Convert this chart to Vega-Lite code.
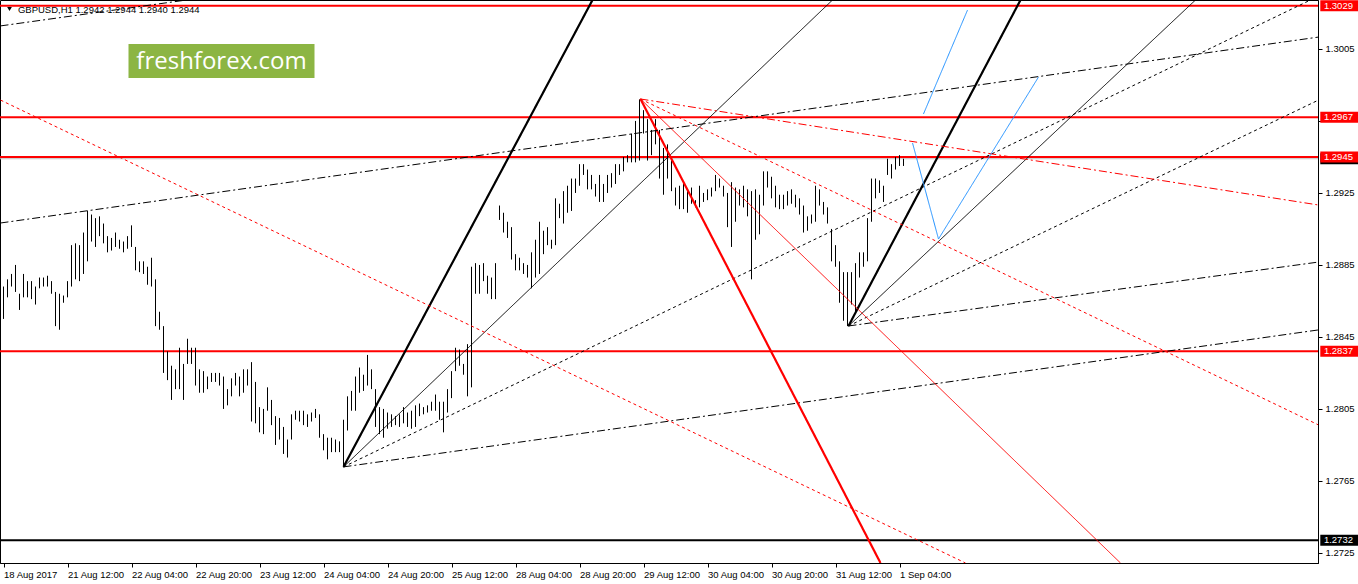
{
  "$schema": "https://vega.github.io/schema/vega-lite/v6.json",
  "width": 1318,
  "height": 563,
  "autosize": "none",
  "padding": {"left": 0, "top": 0, "right": 40, "bottom": 21},
  "background": "white",
  "datasets": {
    "bars": [
      {"i":0,"h":1.2873,"l":1.2855},{"i":1,"h":1.2877,"l":1.2867},{"i":2,"h":1.2880,"l":1.2873},{"i":3,"h":1.2885,"l":1.2870},
      {"i":4,"h":1.2869,"l":1.2860},{"i":5,"h":1.2880,"l":1.2867},{"i":6,"h":1.2876,"l":1.2867},{"i":7,"h":1.2876,"l":1.2866},
      {"i":8,"h":1.2873,"l":1.2863},{"i":9,"h":1.2878,"l":1.2872},{"i":10,"h":1.2878,"l":1.2873},{"i":11,"h":1.2879,"l":1.2873},
      {"i":12,"h":1.2876,"l":1.2869},{"i":13,"h":1.2870,"l":1.2851},{"i":14,"h":1.2869,"l":1.2849},{"i":15,"h":1.2868,"l":1.2864},
      {"i":16,"h":1.2876,"l":1.2867},{"i":17,"h":1.2896,"l":1.2873},{"i":18,"h":1.2897,"l":1.2877},{"i":19,"h":1.2896,"l":1.2876},
      {"i":20,"h":1.2903,"l":1.2880},{"i":21,"h":1.2915,"l":1.2887},{"i":22,"h":1.2913,"l":1.2898},{"i":23,"h":1.2911,"l":1.2895},
      {"i":24,"h":1.2912,"l":1.2901},{"i":25,"h":1.2908,"l":1.2897},{"i":26,"h":1.2901,"l":1.2892},{"i":27,"h":1.2900,"l":1.2893},
      {"i":28,"h":1.2903,"l":1.2895},{"i":29,"h":1.2899,"l":1.2894},{"i":30,"h":1.2898,"l":1.2892},{"i":31,"h":1.2901,"l":1.2894},
      {"i":32,"h":1.2907,"l":1.2895},{"i":33,"h":1.2895,"l":1.2882},{"i":34,"h":1.2887,"l":1.2881},{"i":35,"h":1.2887,"l":1.2880},
      {"i":36,"h":1.2884,"l":1.2874},{"i":37,"h":1.2889,"l":1.2873},{"i":38,"h":1.2877,"l":1.2851},{"i":39,"h":1.2859,"l":1.2849},
      {"i":40,"h":1.2851,"l":1.2825},{"i":41,"h":1.2837,"l":1.2821},{"i":42,"h":1.2829,"l":1.2810},{"i":43,"h":1.2827,"l":1.2816},
      {"i":44,"h":1.2839,"l":1.2816},{"i":45,"h":1.2830,"l":1.2810},{"i":46,"h":1.2844,"l":1.2830},{"i":47,"h":1.2839,"l":1.2830},
      {"i":48,"h":1.2839,"l":1.2818},{"i":49,"h":1.2827,"l":1.2814},{"i":50,"h":1.2826,"l":1.2814},{"i":51,"h":1.2823,"l":1.2816},
      {"i":52,"h":1.2825,"l":1.2820},{"i":53,"h":1.2825,"l":1.2820},{"i":54,"h":1.2825,"l":1.2818},{"i":55,"h":1.2823,"l":1.2805},
      {"i":56,"h":1.2816,"l":1.2807},{"i":57,"h":1.2822,"l":1.2812},{"i":58,"h":1.2825,"l":1.2818},{"i":59,"h":1.2823,"l":1.2812},
      {"i":60,"h":1.2827,"l":1.2814},{"i":61,"h":1.2827,"l":1.2818},{"i":62,"h":1.2831,"l":1.2798},{"i":63,"h":1.2820,"l":1.2797},
      {"i":64,"h":1.2806,"l":1.2792},{"i":65,"h":1.2805,"l":1.2791},{"i":66,"h":1.2817,"l":1.2804},{"i":67,"h":1.2810,"l":1.2796},
      {"i":68,"h":1.2801,"l":1.2785},{"i":69,"h":1.2800,"l":1.2788},{"i":70,"h":1.2795,"l":1.2780},{"i":71,"h":1.2788,"l":1.2778},
      {"i":72,"h":1.2802,"l":1.2788},{"i":73,"h":1.2804,"l":1.2799},{"i":74,"h":1.2804,"l":1.2798},{"i":75,"h":1.2804,"l":1.2796},
      {"i":76,"h":1.2802,"l":1.2795},{"i":77,"h":1.2803,"l":1.2798},{"i":78,"h":1.2805,"l":1.2800},{"i":79,"h":1.2802,"l":1.2789},
      {"i":80,"h":1.2791,"l":1.2782},{"i":81,"h":1.2789,"l":1.2777},{"i":82,"h":1.2789,"l":1.2781},{"i":83,"h":1.2788,"l":1.2781},
      {"i":84,"h":1.2787,"l":1.2781},{"i":85,"h":1.2799,"l":1.2773},{"i":86,"h":1.2812,"l":1.2793},{"i":87,"h":1.2815,"l":1.2804},
      {"i":88,"h":1.2823,"l":1.2804},{"i":89,"h":1.2828,"l":1.2814},{"i":90,"h":1.2824,"l":1.2815},{"i":91,"h":1.2835,"l":1.2818},
      {"i":92,"h":1.2827,"l":1.2816},{"i":93,"h":1.2816,"l":1.2795},{"i":94,"h":1.2806,"l":1.2791},{"i":95,"h":1.2805,"l":1.2789},
      {"i":96,"h":1.2803,"l":1.2794},{"i":97,"h":1.2802,"l":1.2795},{"i":98,"h":1.2801,"l":1.2796},{"i":99,"h":1.2802,"l":1.2795},
      {"i":100,"h":1.2806,"l":1.2797},{"i":101,"h":1.2803,"l":1.2795},{"i":102,"h":1.2804,"l":1.2794},{"i":103,"h":1.2807,"l":1.2795},
      {"i":104,"h":1.2808,"l":1.2801},{"i":105,"h":1.2806,"l":1.2802},{"i":106,"h":1.2807,"l":1.2803},{"i":107,"h":1.2809,"l":1.2804},
      {"i":108,"h":1.2813,"l":1.2804},{"i":109,"h":1.2809,"l":1.2799},{"i":110,"h":1.2809,"l":1.2792},{"i":111,"h":1.2816,"l":1.2803},
      {"i":112,"h":1.2826,"l":1.2811},{"i":113,"h":1.2839,"l":1.2826},{"i":114,"h":1.2838,"l":1.2829},{"i":115,"h":1.2830,"l":1.2824},
      {"i":116,"h":1.2841,"l":1.2812},{"i":117,"h":1.2884,"l":1.2817},{"i":118,"h":1.2886,"l":1.2869},{"i":119,"h":1.2885,"l":1.2869},
      {"i":120,"h":1.2886,"l":1.2876},{"i":121,"h":1.2879,"l":1.2869},{"i":122,"h":1.2878,"l":1.2866},{"i":123,"h":1.2886,"l":1.2866},
      {"i":124,"h":1.2918,"l":1.2910},{"i":125,"h":1.2914,"l":1.2903},{"i":126,"h":1.2909,"l":1.2900},{"i":127,"h":1.2906,"l":1.2888},
      {"i":128,"h":1.2891,"l":1.2882},{"i":129,"h":1.2889,"l":1.2882},{"i":130,"h":1.2886,"l":1.2880},{"i":131,"h":1.2885,"l":1.2878},
      {"i":132,"h":1.2892,"l":1.2872},{"i":133,"h":1.2899,"l":1.2878},{"i":134,"h":1.2909,"l":1.2880},{"i":135,"h":1.2904,"l":1.2891},
      {"i":136,"h":1.2906,"l":1.2896},{"i":137,"h":1.2899,"l":1.2894},{"i":138,"h":1.2922,"l":1.2896},{"i":139,"h":1.2919,"l":1.2911},
      {"i":140,"h":1.2926,"l":1.2908},{"i":141,"h":1.2929,"l":1.2914},{"i":142,"h":1.2933,"l":1.2915},{"i":143,"h":1.2933,"l":1.2925},
      {"i":144,"h":1.2941,"l":1.2929},{"i":145,"h":1.2941,"l":1.2935},{"i":146,"h":1.2938,"l":1.2927},{"i":147,"h":1.2935,"l":1.2927},
      {"i":148,"h":1.2930,"l":1.2923},{"i":149,"h":1.2935,"l":1.2920},{"i":150,"h":1.2930,"l":1.2920},{"i":151,"h":1.2935,"l":1.2925},
      {"i":152,"h":1.2936,"l":1.2928},{"i":153,"h":1.2941,"l":1.2930},{"i":154,"h":1.2941,"l":1.2935},{"i":155,"h":1.2945,"l":1.2937},
      {"i":156,"h":1.2946,"l":1.2942},{"i":157,"h":1.2958,"l":1.2942},{"i":158,"h":1.2965,"l":1.2942},{"i":159,"h":1.2977,"l":1.2943},
      {"i":160,"h":1.2971,"l":1.2958},{"i":161,"h":1.2966,"l":1.2943},{"i":162,"h":1.2960,"l":1.2946},{"i":163,"h":1.2966,"l":1.2952},
      {"i":164,"h":1.2960,"l":1.2933},{"i":165,"h":1.2950,"l":1.2924},{"i":166,"h":1.2952,"l":1.2933},{"i":167,"h":1.2943,"l":1.2926},
      {"i":168,"h":1.2928,"l":1.2918},{"i":169,"h":1.2929,"l":1.2916},{"i":170,"h":1.2930,"l":1.2916},{"i":171,"h":1.2926,"l":1.2914},
      {"i":172,"h":1.2928,"l":1.2919},{"i":173,"h":1.2921,"l":1.2917},{"i":174,"h":1.2929,"l":1.2917},{"i":175,"h":1.2925,"l":1.2920},
      {"i":176,"h":1.2927,"l":1.2921},{"i":177,"h":1.2928,"l":1.2923},{"i":178,"h":1.2935,"l":1.2926},{"i":179,"h":1.2933,"l":1.2928},
      {"i":180,"h":1.2929,"l":1.2923},{"i":181,"h":1.2925,"l":1.2906},{"i":182,"h":1.2931,"l":1.2895},{"i":183,"h":1.2928,"l":1.2909},
      {"i":184,"h":1.2927,"l":1.2918},{"i":185,"h":1.2929,"l":1.2917},{"i":186,"h":1.2927,"l":1.2912},{"i":187,"h":1.2926,"l":1.2877},
      {"i":188,"h":1.2927,"l":1.2899},{"i":189,"h":1.2924,"l":1.2902},{"i":190,"h":1.2937,"l":1.2918},{"i":191,"h":1.2937,"l":1.2928},
      {"i":192,"h":1.2934,"l":1.2922},{"i":193,"h":1.2929,"l":1.2917},{"i":194,"h":1.2924,"l":1.2916},{"i":195,"h":1.2924,"l":1.2916},
      {"i":196,"h":1.2926,"l":1.2918},{"i":197,"h":1.2927,"l":1.2919},{"i":198,"h":1.2924,"l":1.2917},{"i":199,"h":1.2922,"l":1.2913},
      {"i":200,"h":1.2918,"l":1.2903},{"i":201,"h":1.2912,"l":1.2904},{"i":202,"h":1.2913,"l":1.2908},{"i":203,"h":1.2929,"l":1.2909},
      {"i":204,"h":1.2927,"l":1.2918},{"i":205,"h":1.2920,"l":1.2913},{"i":206,"h":1.2917,"l":1.2908},{"i":207,"h":1.2905,"l":1.2887},
      {"i":208,"h":1.2896,"l":1.2884},{"i":209,"h":1.2887,"l":1.2864},{"i":210,"h":1.2881,"l":1.2854},{"i":211,"h":1.2881,"l":1.2851},
      {"i":212,"h":1.2881,"l":1.2863},{"i":213,"h":1.2886,"l":1.2858},{"i":214,"h":1.2892,"l":1.2878},{"i":215,"h":1.2892,"l":1.2884},
      {"i":216,"h":1.2911,"l":1.2887},{"i":217,"h":1.2933,"l":1.2909},{"i":218,"h":1.2933,"l":1.2922},{"i":219,"h":1.2932,"l":1.2925},
      {"i":220,"h":1.2929,"l":1.2920},{"i":221,"h":1.2944,"l":1.2935},{"i":222,"h":1.2941,"l":1.2933},{"i":223,"h":1.2945,"l":1.2938},
      {"i":224,"h":1.2946,"l":1.2940},{"i":225,"h":1.2944,"l":1.2940}
    ],
    "levels": [
      {"price": 1.2944, "kind": "bid"},
      {"price": 1.3029, "kind": "red"},
      {"price": 1.2967, "kind": "red"},
      {"price": 1.2945, "kind": "red"},
      {"price": 1.2837, "kind": "red"},
      {"price": 1.2732, "kind": "black"}
    ],
    "trend": [
      {"i0": 85, "p0": 1.27728, "i1": 147.25, "p1": 1.30322, "col": "black", "st": "thick"},
      {"i0": 85, "p0": 1.27728, "i1": 207.25, "p1": 1.30322, "col": "black", "st": "thin"},
      {"i0": 85, "p0": 1.27728, "i1": 326.75, "p1": 1.30322, "col": "black", "st": "dot"},
      {"i0": 85, "p0": 1.27728, "i1": 328.75, "p1": 1.28489, "col": "black", "st": "dashdot"},
      {"i0": 211.25, "p0": 1.28511, "i1": 254.25, "p1": 1.30322, "col": "black", "st": "thick"},
      {"i0": 211.25, "p0": 1.28511, "i1": 298, "p1": 1.30322, "col": "black", "st": "thin"},
      {"i0": 211.25, "p0": 1.28511, "i1": 328.75, "p1": 1.29766, "col": "black", "st": "dot"},
      {"i0": 211.25, "p0": 1.28511, "i1": 328.75, "p1": 1.28866, "col": "black", "st": "dashdot"},
      {"i0": 159.25, "p0": 1.29772, "i1": 219.25, "p1": 1.27194, "col": "red", "st": "thick"},
      {"i0": 159.25, "p0": 1.29772, "i1": 279.25, "p1": 1.27194, "col": "red", "st": "thin"},
      {"i0": 159.25, "p0": 1.29772, "i1": 328.75, "p1": 1.27961, "col": "red", "st": "dot"},
      {"i0": 159.25, "p0": 1.29772, "i1": 328.75, "p1": 1.29183, "col": "red", "st": "dashdot"},
      {"i0": -0.75, "p0": 1.29766, "i1": 240.5, "p1": 1.27194, "col": "red", "st": "dot"},
      {"i0": -0.75, "p0": 1.29083, "i1": 328.75, "p1": 1.30116, "col": "black", "st": "dashdot"},
      {"i0": -0.75, "p0": 1.30178, "i1": 45.75, "p1": 1.30322, "col": "black", "st": "dashdot"},
      {"i0": 227.25, "p0": 1.29528, "i1": 233.75, "p1": 1.28994, "col": "blue", "st": "thin"},
      {"i0": 233.75, "p0": 1.28994, "i1": 258.75, "p1": 1.29894, "col": "blue", "st": "thin"},
      {"i0": 230, "p0": 1.29689, "i1": 241, "p1": 1.30266, "col": "blue", "st": "thin"}
    ]
  },
  "layer": [
    {
      "data": {"name": "levels"},
      "mark": {"type": "rule", "clip": true},
      "encoding": {
        "y": {"field": "price", "type": "quantitative", "title": null,
              "scale": {"domain": [1.27194, 1.30322], "nice": false, "zero": false}},
        "stroke": {"field": "kind", "type": "nominal", "legend": null,
                   "scale": {"domain": ["red", "black", "bid"], "range": ["#ff0000", "#000000", "#c0c0c0"]}},
        "strokeWidth": {"field": "kind", "type": "nominal", "legend": null,
                        "scale": {"type": "ordinal", "domain": ["red", "black", "bid"], "range": [2, 2, 1]}}
      }
    },
    {
      "data": {"name": "bars"},
      "mark": {"type": "rule", "color": "black", "strokeWidth": 1},
      "encoding": {
        "x": {"field": "i", "type": "quantitative", "title": null,
              "scale": {"domain": [-0.875, 328.625], "nice": false, "zero": false},
              "axis": {
                "orient": "bottom",
                "values": [0, 16, 32, 48, 64, 80, 96, 112, 128, 144, 160, 176, 192, 208, 224],
                "labelExpr": "['18 Aug 2017','21 Aug 12:00','22 Aug 04:00','22 Aug 20:00','23 Aug 12:00','24 Aug 04:00','24 Aug 20:00','25 Aug 12:00','28 Aug 04:00','28 Aug 20:00','29 Aug 12:00','30 Aug 04:00','30 Aug 20:00','31 Aug 12:00','1 Sep 04:00'][round(datum.value / 16)]",
                "labelAlign": "left",
                "labelPadding": 2,
                "tickSize": 4,
                "labelFlush": false,
                "labelOverlap": false,
                "grid": false
              }},
        "y": {"field": "h", "type": "quantitative", "title": null,
              "scale": {"domain": [1.27194, 1.30322], "nice": false, "zero": false},
              "axis": {
                "orient": "right",
                "values": [1.2725, 1.2745, 1.2765, 1.2785, 1.2805, 1.2825, 1.2845, 1.2865, 1.2885, 1.2905, 1.2925, 1.2945, 1.2965, 1.2985, 1.3005, 1.3025],
                "labelExpr": "datum.value > 1.2940 && datum.value < 1.2970 ? '' : format(datum.value, '.4f')",
                "tickSize": 4,
                "labelPadding": 3,
                "grid": false
              }},
        "y2": {"field": "l"}
      }
    },
    {
      "data": {"name": "trend"},
      "mark": {"type": "rule", "clip": true},
      "encoding": {
        "x": {"field": "i0", "type": "quantitative", "title": null,
              "scale": {"domain": [-0.875, 328.625], "nice": false, "zero": false}},
        "x2": {"field": "i1"},
        "y": {"field": "p0", "type": "quantitative", "title": null,
              "scale": {"domain": [1.27194, 1.30322], "nice": false, "zero": false}},
        "y2": {"field": "p1"},
        "stroke": {"field": "col", "type": "nominal", "legend": null,
                   "scale": {"domain": ["black", "red", "blue"], "range": ["#000000", "#ff0000", "#1e90ff"]}},
        "strokeWidth": {"field": "st", "type": "nominal", "legend": null,
                        "scale": {"type": "ordinal", "domain": ["thick", "thin", "dot", "dashdot"], "range": [2.2, 1, 1, 1]}},
        "strokeDash": {"field": "st", "type": "nominal", "legend": null,
                       "scale": {"domain": ["thick", "thin", "dot", "dashdot"], "range": [[1, 0], [1, 0], [3, 3], [8, 3, 2, 3]]}}
      }
    },
    {
      "data": {"name": "levels"},
      "transform": [{"filter": "datum.kind == 'bid'"}],
      "layer": [
        {
          "mark": {"type": "rect", "height": 11, "clip": false, "color": "black"},
          "encoding": {
            "x": {"datum": 329.2, "type": "quantitative",
                  "scale": {"domain": [-0.875, 328.625], "nice": false, "zero": false}},
            "x2": {"datum": 341},
            "y": {"field": "price", "type": "quantitative", "title": null,
                  "scale": {"domain": [1.27194, 1.30322], "nice": false, "zero": false}}
          }
        },
        {
          "mark": {"type": "text", "align": "left", "baseline": "middle", "color": "white",
                   "font": "Liberation Sans", "fontSize": 9.5, "clip": false},
          "encoding": {
            "x": {"datum": 330.1, "type": "quantitative",
                  "scale": {"domain": [-0.875, 328.625], "nice": false, "zero": false}},
            "y": {"field": "price", "type": "quantitative", "title": null,
                  "scale": {"domain": [1.27194, 1.30322], "nice": false, "zero": false}},
            "text": {"field": "price", "type": "quantitative", "format": ".4f"}
          }
        }
      ]
    },
    {
      "data": {"name": "levels"},
      "transform": [{"filter": "datum.kind != 'bid'"}],
      "layer": [
        {
          "mark": {"type": "rect", "height": 11, "clip": false},
          "encoding": {
            "x": {"datum": 329.2, "type": "quantitative",
                  "scale": {"domain": [-0.875, 328.625], "nice": false, "zero": false}},
            "x2": {"datum": 341},
            "y": {"field": "price", "type": "quantitative", "title": null,
                  "scale": {"domain": [1.27194, 1.30322], "nice": false, "zero": false}},
            "fill": {"field": "kind", "type": "nominal", "legend": null,
                     "scale": {"domain": ["red", "black"], "range": ["#ff0000", "#000000"]}}
          }
        },
        {
          "mark": {"type": "text", "align": "left", "baseline": "middle", "color": "white",
                   "font": "Liberation Sans", "fontSize": 9.5, "clip": false},
          "encoding": {
            "x": {"datum": 330.1, "type": "quantitative",
                  "scale": {"domain": [-0.875, 328.625], "nice": false, "zero": false}},
            "y": {"field": "price", "type": "quantitative", "title": null,
                  "scale": {"domain": [1.27194, 1.30322], "nice": false, "zero": false}},
            "text": {"field": "price", "type": "quantitative", "format": ".4f"}
          }
        }
      ]
    },
    {
      "data": {"values": [{}]},
      "layer": [
        {
          "mark": {"type": "rect", "color": "#8cb543"},
          "encoding": {
            "x": {"datum": 31.25, "type": "quantitative",
                  "scale": {"domain": [-0.875, 328.625], "nice": false, "zero": false}},
            "x2": {"datum": 77.75},
            "y": {"datum": 1.30078, "type": "quantitative",
                  "scale": {"domain": [1.27194, 1.30322], "nice": false, "zero": false}},
            "y2": {"datum": 1.29889}
          }
        },
        {
          "mark": {"type": "text", "align": "center", "baseline": "middle", "color": "white",
                   "font": "Open Sans", "fontSize": 24},
          "encoding": {
            "x": {"datum": 54.5, "type": "quantitative",
                  "scale": {"domain": [-0.875, 328.625], "nice": false, "zero": false}},
            "y": {"datum": 1.29978, "type": "quantitative",
                  "scale": {"domain": [1.27194, 1.30322], "nice": false, "zero": false}},
            "text": {"value": "freshforex.com"}
          }
        },
        {
          "mark": {"type": "text", "align": "left", "baseline": "middle", "color": "black",
                   "font": "Liberation Sans", "fontSize": 9.5},
          "encoding": {
            "x": {"datum": 3.6, "type": "quantitative",
                  "scale": {"domain": [-0.875, 328.625], "nice": false, "zero": false}},
            "y": {"datum": 1.30266, "type": "quantitative",
                  "scale": {"domain": [1.27194, 1.30322], "nice": false, "zero": false}},
            "text": {"value": "GBPUSD,H1  1.2942 1.2944 1.2940 1.2944"}
          }
        },
        {
          "mark": {"type": "point", "shape": "triangle-down", "filled": true, "color": "black", "size": 22, "opacity": 1},
          "encoding": {
            "x": {"datum": 1.5, "type": "quantitative",
                  "scale": {"domain": [-0.875, 328.625], "nice": false, "zero": false}},
            "y": {"datum": 1.30272, "type": "quantitative",
                  "scale": {"domain": [1.27194, 1.30322], "nice": false, "zero": false}}
          }
        }
      ]
    }
  ],
  "resolve": {
    "scale": {"stroke": "independent", "strokeWidth": "independent", "strokeDash": "independent", "fill": "independent"}
  },
  "config": {
    "view": {"stroke": "black", "strokeWidth": 1, "fill": "white"},
    "axis": {
      "labelFont": "Liberation Sans",
      "labelFontSize": 9.5,
      "labelColor": "black",
      "domainColor": "black",
      "tickColor": "black",
      "domainWidth": 1,
      "tickWidth": 1
    }
  }
}
